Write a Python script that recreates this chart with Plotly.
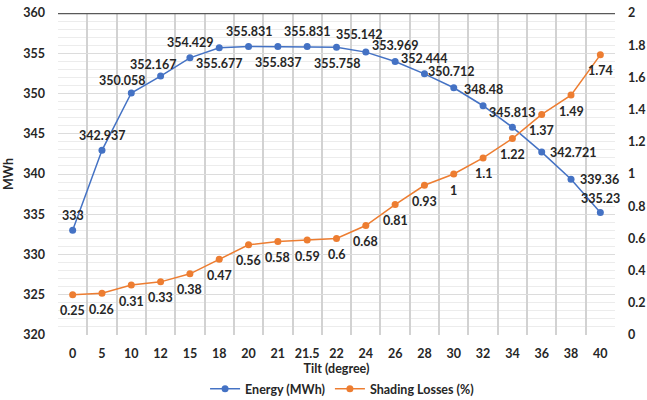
import plotly.graph_objects as go

# Tilt angles (degrees) used as categories
tilt = ["0", "5", "10", "12", "15", "18", "20", "21", "21.5", "22",
        "24", "26", "28", "30", "32", "34", "36", "38", "40"]

# Annual energy yield (MWh)
energy = [333, 342.937, 350.058, 352.167, 354.429, 355.677, 355.831, 355.837,
          355.831, 355.758, 355.142, 353.969, 352.444, 350.712, 348.48,
          345.813, 342.721, 339.36, 335.23]

# Shading losses (%)
shading = [0.25, 0.26, 0.31, 0.33, 0.38, 0.47, 0.56, 0.58, 0.59, 0.6,
           0.68, 0.81, 0.93, 1, 1.1, 1.22, 1.37, 1.49, 1.74]

# Label offsets (px) for the energy value labels
energy_dx = [0, 0, -9, -8, 0, 0, 0, 0, 0, 0, -7, 0, 0, -3, 0, 0, 31, 28, 0]
energy_dy = [15, 15, 13, 12, 15, -16, 15, -16, 15, -16, 18, 16, 15, 16, 16, 15, 0, 0, 14]

FONT = "Lato"
TXT = "#262626"
BLUE = "#4472C4"
ORANGE = "#ED7D31"
LBL = dict(family=FONT, size=12.5, color=TXT, weight="bold")

fig = go.Figure()

fig.add_trace(go.Scatter(
    x=tilt, y=energy, name="Energy (MWh)", mode="lines+markers",
    line=dict(color=BLUE, width=1.5), marker=dict(color=BLUE, size=7),
    cliponaxis=False,
))

fig.add_trace(go.Scatter(
    x=tilt, y=shading, name="Shading Losses (%)", mode="lines+markers",
    yaxis="y2",
    line=dict(color=ORANGE, width=1.5), marker=dict(color=ORANGE, size=7),
    cliponaxis=False,
))

# Value labels; on a category axis the annotation x is the category index
annotations = []
for i, (v, dx, dy) in enumerate(zip(energy, energy_dx, energy_dy)):
    annotations.append(dict(x=i, y=v, xref="x", yref="y", text=f"{v:g}",
                            showarrow=False, xshift=dx, yshift=dy, font=LBL))
for i, v in enumerate(shading):
    annotations.append(dict(x=i, y=v, xref="x", yref="y2", text=f"{v:g}",
                            showarrow=False, yshift=-16, font=LBL))

fig.update_layout(
    width=647, height=400,
    margin=dict(l=58, r=32, t=13, b=65, autoexpand=False),
    paper_bgcolor="white", plot_bgcolor="white",
    font=dict(family=FONT, size=12, color=TXT, weight="bold"),
    showlegend=True,
    legend=dict(orientation="h", x=0.51, xanchor="center", y=-0.168, yanchor="middle",
                font=dict(family=FONT, size=12.5, color=TXT, weight="bold"),
                tracegroupgap=0),
    xaxis=dict(
        type="category", categoryorder="array", categoryarray=tilt,
        range=[-0.5, len(tilt) - 0.5],
        tickson="boundaries", ticks="", tickangle=0, ticklabelstandoff=9,
        showgrid=True, gridcolor="#d2d2d2", gridwidth=2,
        showline=False, zeroline=False, automargin=False,
        tickfont=dict(family=FONT, size=12.5, color=TXT, weight="bold"),
        title=dict(text="Tilt (degree)", standoff=1,
                   font=dict(family=FONT, size=12.5, color=TXT, weight="bold")),
    ),
    yaxis=dict(
        range=[320, 360], dtick=5, showgrid=True, gridcolor="#dcdcdc", gridwidth=1,
        minor=dict(dtick=1, showgrid=True, gridcolor="#ececec", gridwidth=1),
        zeroline=False, showline=False, ticks="", ticklabelstandoff=12,
        automargin=False,
        tickfont=dict(family=FONT, size=12.5, color=TXT, weight="bold"),
        title=dict(text="MWh", standoff=6,
                   font=dict(family=FONT, size=12.5, color=TXT, weight="bold")),
    ),
    yaxis2=dict(
        range=[0, 2], dtick=0.2, overlaying="y", side="right", showgrid=False,
        zeroline=False, showline=False, ticks="", ticklabelstandoff=12,
        automargin=False,
        tickfont=dict(family=FONT, size=12.5, color=TXT, weight="bold"),
    ),
    annotations=annotations,
    shapes=[dict(type="line", xref="paper", yref="y", x0=0, x1=1, y0=360, y1=360,
                 line=dict(color="#595959", width=2.5), layer="above")],
)

fig.write_html("out.html")
